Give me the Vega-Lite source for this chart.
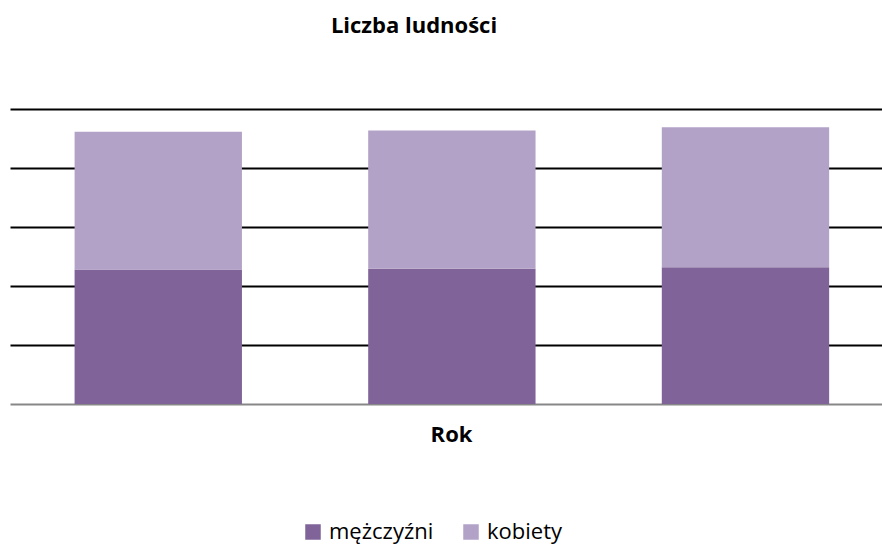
{
  "$schema": "https://vega.github.io/schema/vega-lite/v6.json",
  "width": 872,
  "height": 295,
  "autosize": {"type": "none"},
  "padding": {"left": 10, "top": 109, "right": 0, "bottom": 142},
  "background": "white",
  "config": {
    "font": "Open Sans",
    "view": {"stroke": null}
  },
  "title": {
    "text": "Liczba ludności",
    "fontSize": 22,
    "fontWeight": "bold",
    "color": "#000000",
    "font": "Open Sans",
    "anchor": "middle",
    "baseline": "alphabetic",
    "offset": 54,
    "dx": -32
  },
  "data": {
    "values": [
      {"rok": "2010", "plec": "mężczyźni", "liczba": 2280},
      {"rok": "2010", "plec": "kobiety", "liczba": 2334},
      {"rok": "2011", "plec": "mężczyźni", "liczba": 2292},
      {"rok": "2011", "plec": "kobiety", "liczba": 2344},
      {"rok": "2012", "plec": "mężczyźni", "liczba": 2319},
      {"rok": "2012", "plec": "kobiety", "liczba": 2373}
    ]
  },
  "mark": {"type": "bar"},
  "encoding": {
    "x": {
      "field": "rok",
      "type": "nominal",
      "scale": {"paddingInner": 0.43, "paddingOuter": 0.2, "align": 0.55},
      "axis": {
        "title": "Rok",
        "labels": false,
        "ticks": false,
        "domain": true,
        "domainColor": "#878787",
        "domainWidth": 2,
        "grid": false,
        "titleFont": "Open Sans",
        "titleFontSize": 22,
        "titleFontWeight": "bold",
        "titleColor": "#000000",
        "titleBaseline": "alphabetic",
        "titlePadding": 37,
        "titleX": 441
      }
    },
    "y": {
      "field": "liczba",
      "type": "quantitative",
      "stack": "zero",
      "scale": {"domain": [0, 5000], "nice": false},
      "axis": {
        "title": null,
        "labels": false,
        "ticks": false,
        "domain": false,
        "grid": true,
        "gridColor": "#000000",
        "gridWidth": 2,
        "values": [1000, 2000, 3000, 4000, 5000]
      }
    },
    "color": {
      "field": "plec",
      "type": "nominal",
      "scale": {"domain": ["mężczyźni", "kobiety"], "range": ["#7F6399", "#B3A2C7"]},
      "legend": {
        "title": null,
        "orient": "none",
        "direction": "horizontal",
        "legendX": 292,
        "legendY": 412,
        "symbolType": "square",
        "symbolSize": 240,
        "symbolStrokeWidth": 0,
        "labelFontSize": 22,
        "labelColor": "#000000",
        "labelFont": "Open Sans",
        "labelOffset": 5,
        "columnPadding": 26,
        "padding": 0
      }
    },
    "order": {"field": "plec", "sort": "descending"}
  }
}
